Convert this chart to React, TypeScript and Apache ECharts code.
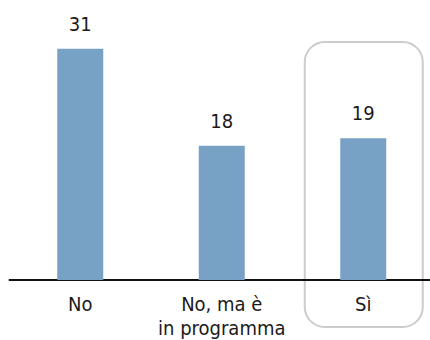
import React, { useEffect, useRef } from "react";
import * as echarts from "echarts";

const categories = ["No", "No, ma è\nin programma", "Sì"];
const values = [31, 18, 19];
const highlighted = "Sì";

const FONT = "'Liberation Sans Narrow', 'DejaVu Sans Condensed', 'Roboto', sans-serif";

export default function App() {
  const ref = useRef<HTMLDivElement>(null);

  useEffect(() => {
    if (!ref.current) return;
    const chart = echarts.init(ref.current, null, { renderer: "svg" });
    chart.setOption({
      animation: false,
      grid: { left: 9.5, width: 424.5, top: 19, bottom: 57 },
      xAxis: {
        type: "category",
        data: categories,
        axisLine: { lineStyle: { color: "#111", width: 2 } },
        axisTick: { show: false },
        axisLabel: {
          color: "#1a1a1a",
          fontFamily: FONT,
          fontSize: 20,
          lineHeight: 24,
          margin: 12,
          interval: 0,
        },
      },
      yAxis: {
        type: "value",
        min: 0,
        max: 35,
        show: false,
        splitLine: { show: false },
      },
      series: [
        {
          type: "bar",
          data: values,
          barWidth: 46,
          itemStyle: { color: "#77a2c5" },
          label: {
            show: true,
            position: "top",
            distance: 15,
            color: "#1a1a1a",
            fontFamily: FONT,
            fontSize: 20,
          },
        },
      ],
    });

    // Rounded frame around the highlighted category, placed from the axis scale
    const cx = chart.convertToPixel({ xAxisIndex: 0 }, highlighted) as number;
    const boxW = 118;
    chart.setOption({
      graphic: [
        {
          type: "rect",
          silent: true,
          z: -1,
          shape: { x: cx - boxW / 2 + 0.5, y: 42, width: boxW, height: 285, r: 20 },
          style: { fill: "none", stroke: "#cccccc", lineWidth: 2 },
        },
      ],
    });

    return () => chart.dispose();
  }, []);

  return (
    <div
      style={{
        position: "absolute",
        left: 0,
        top: 0,
        width: 430,
        height: 340,
        overflow: "hidden",
        background: "#fff",
      }}
    >
      <div ref={ref} style={{ width: 440, height: 340 }} />
    </div>
  );
}
